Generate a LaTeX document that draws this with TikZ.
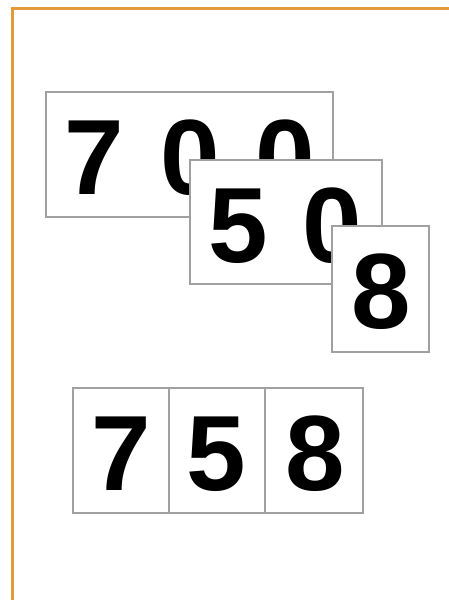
\documentclass[tikz,border=0pt]{standalone}
\usepackage{fontspec}
\setmainfont{Liberation Sans}
\definecolor{frameorange}{HTML}{E59A3A}
\definecolor{boxgray}{HTML}{A0A0A0}
\begin{document}
\begin{tikzpicture}[x=1pt,y=-1pt,
  card/.style={draw=boxgray,line width=1.4pt,fill=white,inner sep=0pt,rectangle},
  digit/.style={inner sep=0pt,anchor=base,font=\fontsize{107}{107}\selectfont\bfseries}]
\useasboundingbox (0,0) rectangle (449,600);
\fill[white] (0,0) rectangle (449,600);
\coordinate (ftop) at (449,8.5);
\coordinate (fcorner) at (12.5,8.5);
\coordinate (fbot) at (12.5,600);
\draw[frameorange,line width=2.6pt] (ftop) -- (fcorner) -- (fbot);
% top card 700
\node[card,minimum width=287pt,minimum height=125pt] (c1) at (189.5,154.5) {};
\node[digit] (d17) at (94,194) {7};
\node[digit] (d10a) at (190,194) {0};
\node[digit] (d10b) at (285,194) {0};
% card 50
\node[card,minimum width=192pt,minimum height=124pt] (c2) at (286,222) {};
\node[digit] (d25) at (238,262) {5};
\node[digit] (d20) at (332,262) {0};
% card 8
\node[card,minimum width=97pt,minimum height=126pt] (c3) at (380.5,289) {};
\node[digit] (d38) at (381,328) {8};
% bottom row
\node[card,minimum width=96pt,minimum height=125pt] (b1) at (121,450.5) {};
\node[card,minimum width=96pt,minimum height=125pt] (b2) at (217,450.5) {};
\node[card,minimum width=98pt,minimum height=125pt] (b3) at (314,450.5) {};
\node[digit] (e7) at (121,490) {7};
\node[digit] (e5) at (216,490) {5};
\node[digit] (e8) at (315,490) {8};
\end{tikzpicture}
\end{document}
